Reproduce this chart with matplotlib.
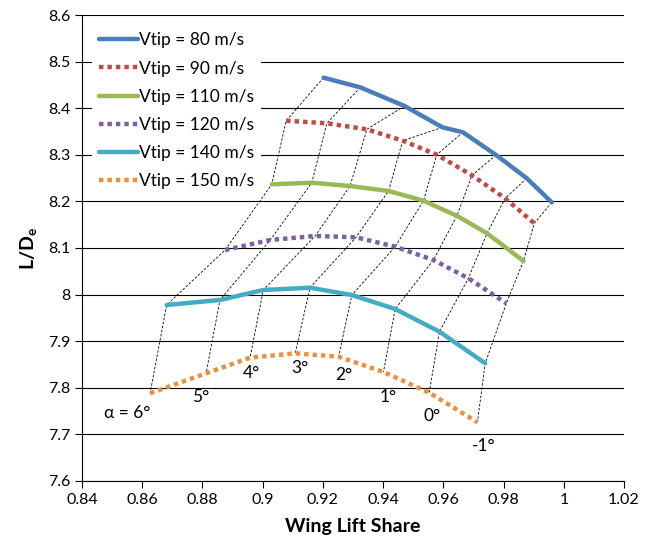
import numpy as np
import matplotlib
matplotlib.use("Agg")
import matplotlib.pyplot as plt

plt.rcParams['font.family'] = ['Lato', 'DejaVu Sans']

# wing lift share / L/De for each tip speed, alpha = 6 .. -1 deg
alphas = [6, 5, 4, 3, 2, 1, 0, -1]
tip_speeds = [80, 90, 110, 120, 140, 150]

x80 = [0.9202, 0.9324, 0.9471, 0.9597, 0.9665, 0.9775, 0.9877, 0.9960]
y80 = [8.4655, 8.4448, 8.4047, 8.3590, 8.3483, 8.2996, 8.2496, 8.1980]
x90 = [0.9078, 0.9213, 0.9346, 0.9465, 0.9578, 0.9695, 0.9805, 0.9902]
y90 = [8.3732, 8.3676, 8.3547, 8.3303, 8.3002, 8.2560, 8.2067, 8.1530]
x110 = [0.9030, 0.9163, 0.9290, 0.9418, 0.9534, 0.9645, 0.9745, 0.9866]
y110 = [8.2367, 8.2401, 8.2330, 8.2223, 8.2015, 8.1690, 8.1315, 8.0721]
x120 = [0.8875, 0.9025, 0.9174, 0.9310, 0.9440, 0.9567, 0.9683, 0.9809]
y120 = [8.0957, 8.1172, 8.1258, 8.1230, 8.1028, 8.0742, 8.0350, 7.9813]
x140 = [0.8681, 0.8858, 0.9002, 0.9157, 0.9296, 0.9440, 0.9587, 0.9739]
y140 = [7.9777, 7.9884, 8.0099, 8.0148, 7.9991, 7.9690, 7.9204, 7.8526]
x150 = [0.8626, 0.8812, 0.8958, 0.9108, 0.9252, 0.9401, 0.9553, 0.9713]
y150 = [7.7882, 7.8311, 7.8646, 7.8740, 7.8667, 7.8339, 7.7895, 7.7260]

xs = [x80, x90, x110, x120, x140, x150]
ys = [y80, y90, y110, y120, y140, y150]
colors = ['#4a7ebb', '#be4b48', '#98b954', '#7d60a0', '#46aac5', '#ec8f3e']
dotted = [False, True, False, True, False, True]

# alpha label positions
label_x = [0.8550, 0.8795, 0.8964, 0.9122, 0.9268, 0.9418, 0.9562, 0.9733]
label_y = [7.746, 7.780, 7.831, 7.842, 7.827, 7.781, 7.739, 7.675]

fig = plt.figure(figsize=(6.46, 5.48), dpi=100)
ax = fig.add_axes([0.127, 0.1223, 0.839, 0.8503])

# constant-alpha lines across the tip speeds
X = np.array(xs)
Y = np.array(ys)
for j in range(len(alphas)):
    ax.plot(X[:, j], Y[:, j], color='black', lw=0.6, linestyle=(0, (3, 2)), zorder=2)

for i in range(len(tip_speeds)):
    if dotted[i]:
        ax.plot(xs[i], ys[i], color=colors[i], lw=3.2, linestyle=(0, (1, 0.9)),
                dash_capstyle='butt', label='Vtip = %d m/s' % tip_speeds[i], zorder=3)
    else:
        ax.plot(xs[i], ys[i], color=colors[i], lw=3.2, solid_capstyle='round',
                label='Vtip = %d m/s' % tip_speeds[i], zorder=3)

for j, a in enumerate(alphas):
    txt = '%d°' % a
    if j == 0:
        txt = 'α = 6°'
    ax.text(label_x[j], label_y[j], txt, fontsize=12.5, ha='center', va='center', zorder=4)

ax.set_xlim(0.84, 1.02)
ax.set_ylim(7.6, 8.6)
ax.set_xticks(np.arange(0.84, 1.0201, 0.02))
ax.set_xticklabels(['%g' % round(v, 2) for v in np.arange(0.84, 1.0201, 0.02)])
ax.set_yticks(np.arange(7.6, 8.601, 0.1))
ax.set_yticklabels(['%g' % round(v, 1) for v in np.arange(7.6, 8.601, 0.1)])
ax.tick_params(labelsize=11.5, direction='out', length=5, width=0.8, color='black')
ax.yaxis.grid(True, color='black', lw=0.8)
ax.set_axisbelow(True)
for s in ['top', 'right']:
    ax.spines[s].set_visible(False)
for s in ['left', 'bottom']:
    ax.spines[s].set_linewidth(0.8)

ax.set_xlabel('Wing Lift Share', fontsize=14, fontweight='bold', labelpad=8)
ax.set_ylabel('L/D$_\\mathregular{e}$', fontsize=14, fontweight='bold', labelpad=6)

leg = ax.legend(loc='upper left', bbox_to_anchor=(0.0, 1.0), frameon=True, fontsize=12.5,
                handlelength=2.2, handletextpad=0.1, labelspacing=0.7, borderaxespad=0.6)
leg.get_frame().set_facecolor('white')
leg.get_frame().set_edgecolor('none')
leg.get_frame().set_alpha(1)

fig.savefig('out.png', dpi=100)
